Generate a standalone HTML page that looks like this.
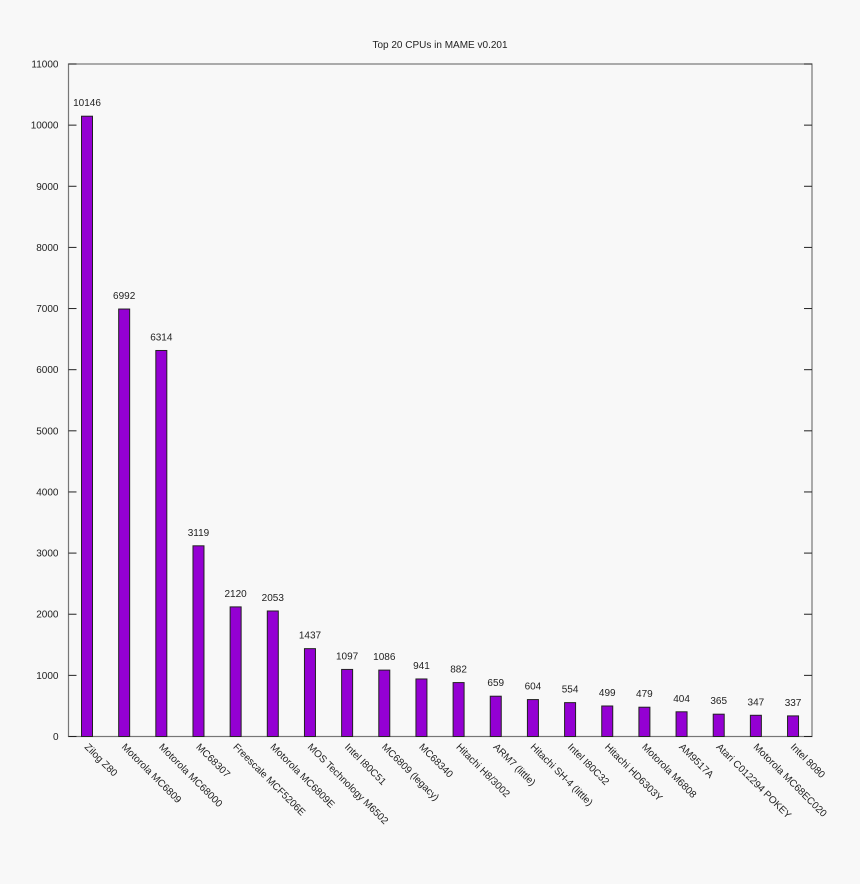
<!DOCTYPE html>
<html><head><meta charset="utf-8"><style>
body{margin:0;background:#f8f8f8;}
svg{display:block;font-family:"Liberation Sans",sans-serif;}
</style></head><body>
<svg id="chart" width="860" height="884">
<rect width="860" height="884" fill="#f8f8f8"/>
<text x="440" y="48" font-size="10" text-anchor="middle" fill="#222">Top 20 CPUs in MAME v0.201</text>
<g id="axes"></g><g id="bars"></g>
</svg>
<script>
const categories=["Zilog Z80","Motorola MC6809","Motorola MC68000","MC68307","Freescale MCF5206E","Motorola MC6809E","MOS Technology M6502","Intel I80C51","MC6809 (legacy)","MC68340","Hitachi H8/3002","ARM7 (little)","Hitachi SH-4 (little)","Intel I80C32","Hitachi HD6303Y","Motorola M6808","AM9517A","Atari C012294 POKEY","Motorola MC68EC020","Intel 8080"];
const values=[10146,6992,6314,3119,2120,2053,1437,1097,1086,941,882,659,604,554,499,479,404,365,347,337];
const yTicks=[0,1000,2000,3000,4000,5000,6000,7000,8000,9000,10000,11000];
const L=68.5,R=812,T=64,B=736.5,yMax=11000;
const NS="http://www.w3.org/2000/svg";
const y=v=>B-(v/yMax)*(B-T);
const step=37.16,x0=87;
const x=i=>x0+i*step;
const ax=document.getElementById('axes'),bg=document.getElementById('bars');
function mk(tag,a,p){const e=document.createElementNS(NS,tag);for(const k in a)e.setAttribute(k,a[k]);p.appendChild(e);return e;}
const frame=mk('rect',{x:L,y:T,width:R-L,height:B-T,fill:'none',stroke:'#777','stroke-width':1.2},ax);


yTicks.forEach(v=>{
 const yy=y(v);
 mk('line',{x1:L,x2:L+8,y1:yy,y2:yy,stroke:'#222'},ax);
 mk('line',{x1:R-8,x2:R,y1:yy,y2:yy,stroke:'#222'},ax);
 const t=mk('text',{x:L-10,y:yy+3.5,'font-size':10,'text-anchor':'end',fill:'#222'},ax);
 t.textContent=v;
 
 
});
categories.forEach((c,i)=>{
 const cx=x(i),yy=y(values[i]);
 const r=mk('rect',{x:cx-5.5,y:yy,width:11,height:B-yy,fill:'#9400d3',stroke:'#222','stroke-width':1},bg);
 
 
 const v=mk('text',{x:cx,y:yy-10,'font-size':10,'text-anchor':'middle',fill:'#222'},bg);
 v.textContent=values[i];
 
 
 const l=mk('text',{x:cx-3,y:B+11,'font-size':10,fill:'#222',transform:`rotate(45 ${cx-3} ${B+11})`},bg);
 l.textContent=c;
 
 
});
</script>
</body></html>
